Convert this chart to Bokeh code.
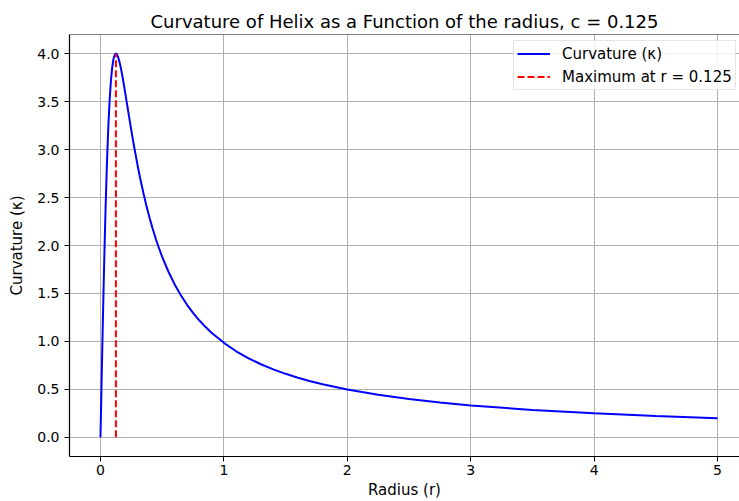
from bokeh.plotting import figure
from bokeh.models import Range1d, FixedTicker, Legend, LegendItem, Span
from bokeh.embed import file_html
from bokeh.resources import INLINE

# Data
radius = [0.0, 0.005, 0.01, 0.015, 0.02, 0.025, 0.03, 0.035, 0.04, 0.045, 0.05, 0.055, 0.06,
          0.065, 0.07, 0.075, 0.08, 0.085, 0.09, 0.095, 0.10, 0.105, 0.11, 0.115, 0.12,
          0.125, 0.13, 0.135, 0.14, 0.15, 0.16, 0.17, 0.18, 0.19, 0.20, 0.21, 0.22, 0.23,
          0.24, 0.25, 0.27, 0.30, 0.32, 0.35, 0.37, 0.40, 0.42, 0.45, 0.47, 0.50, 0.55,
          0.60, 0.65, 0.70, 0.75, 0.80, 0.85, 0.90, 1.0, 1.1, 1.2, 1.3, 1.4, 1.5, 1.6,
          1.7, 1.8, 2.0, 2.25, 2.5, 2.75, 3.0, 3.5, 4.0, 4.5, 5.0]
curvature = [0.0, 0.320, 0.636, 0.946, 1.248, 1.538, 1.815, 2.077, 2.322, 2.550, 2.759, 2.949, 3.121,
             3.275, 3.410, 3.529, 3.632, 3.720, 3.793, 3.854, 3.902, 3.940, 3.968, 3.986, 3.997,
             4.000, 3.997, 3.988, 3.974, 3.934, 3.881, 3.818, 3.748, 3.673, 3.596, 3.516, 3.436, 3.356,
             3.278, 3.200, 3.050, 2.840, 2.711, 2.534, 2.426, 2.278, 2.187, 2.063, 1.987, 1.882, 1.729,
             1.597, 1.484, 1.384, 1.297, 1.220, 1.152, 1.090, 0.985, 0.897, 0.824, 0.762, 0.709, 0.662, 0.621,
             0.585, 0.553, 0.498, 0.443, 0.399, 0.363, 0.333, 0.285, 0.250, 0.222, 0.200]
max_r = [0.125, 0.125]
max_k = [0.0, 4.0]
x_ticks = [0, 1, 2, 3, 4, 5]
y_ticks = [0.0, 0.5, 1.0, 1.5, 2.0, 2.5, 3.0, 3.5, 4.0]

FONT = "DejaVu Sans"

p = figure(width=739, height=501, output_backend="svg", toolbar_location=None,
           x_range=Range1d(-0.251, 5.178), y_range=Range1d(-0.2, 4.2),
           min_border_left=69, min_border_right=0, min_border_top=34, min_border_bottom=45)

p.title.text = "Curvature of Helix as a Function of the radius, c = 0.125"
p.title.text_font = FONT
p.title.text_font_size = "18px"
p.title.text_font_style = "normal"
p.title.align = "center"
p.title.text_color = "black"
p.title.standoff = 5

p.outline_line_color = None
p.add_layout(Span(location=4.2, dimension="width", line_color="black", line_width=1.2))

for ax in (p.xaxis[0], p.yaxis[0]):
    ax.axis_line_color = "black"
    ax.axis_line_width = 1.2
    ax.major_tick_in = 0
    ax.major_tick_out = 5
    ax.major_tick_line_color = "black"
    ax.minor_tick_line_color = None
    ax.major_label_text_font = FONT
    ax.major_label_text_font_size = "14px"
    ax.major_label_text_color = "black"
    ax.axis_label_text_font = FONT
    ax.axis_label_text_font_size = "15px"
    ax.axis_label_text_font_style = "normal"
    ax.axis_label_text_color = "black"

p.xaxis.ticker = FixedTicker(ticks=x_ticks)
p.yaxis.ticker = FixedTicker(ticks=y_ticks)
p.yaxis.major_label_overrides = {t: f"{t:.1f}" for t in y_ticks}
p.xaxis.axis_label = "Radius (r)"
p.yaxis.axis_label = "Curvature (κ)"
p.xaxis.axis_label_standoff = 3
p.xaxis.major_label_standoff = 3
p.yaxis.axis_label_standoff = 8

p.xgrid.ticker = FixedTicker(ticks=x_ticks)
p.ygrid.ticker = FixedTicker(ticks=y_ticks)
p.grid.grid_line_color = "#b0b0b0"
p.grid.grid_line_width = 1

l1 = p.line(radius, curvature, line_color="blue", line_width=2)
l2 = p.line(max_r, max_k, line_color="red", line_width=2, line_dash="7 3")

legend = Legend(items=[LegendItem(label="Curvature (κ)", renderers=[l1]),
                       LegendItem(label="Maximum at r = 0.125", renderers=[l2])],
                location=(444, 366))
legend.label_text_font = FONT
legend.label_text_font_size = "15px"
legend.label_text_color = "black"
legend.border_line_color = "#cccccc"
legend.border_line_width = 1
legend.background_fill_alpha = 0.85
legend.glyph_width = 33
legend.glyph_height = 19
legend.label_height = 19
legend.spacing = 4
legend.padding = 3
legend.margin = 0
legend.label_standoff = 12
p.add_layout(legend)

open("out.html", "w").write(file_html(p, INLINE))
